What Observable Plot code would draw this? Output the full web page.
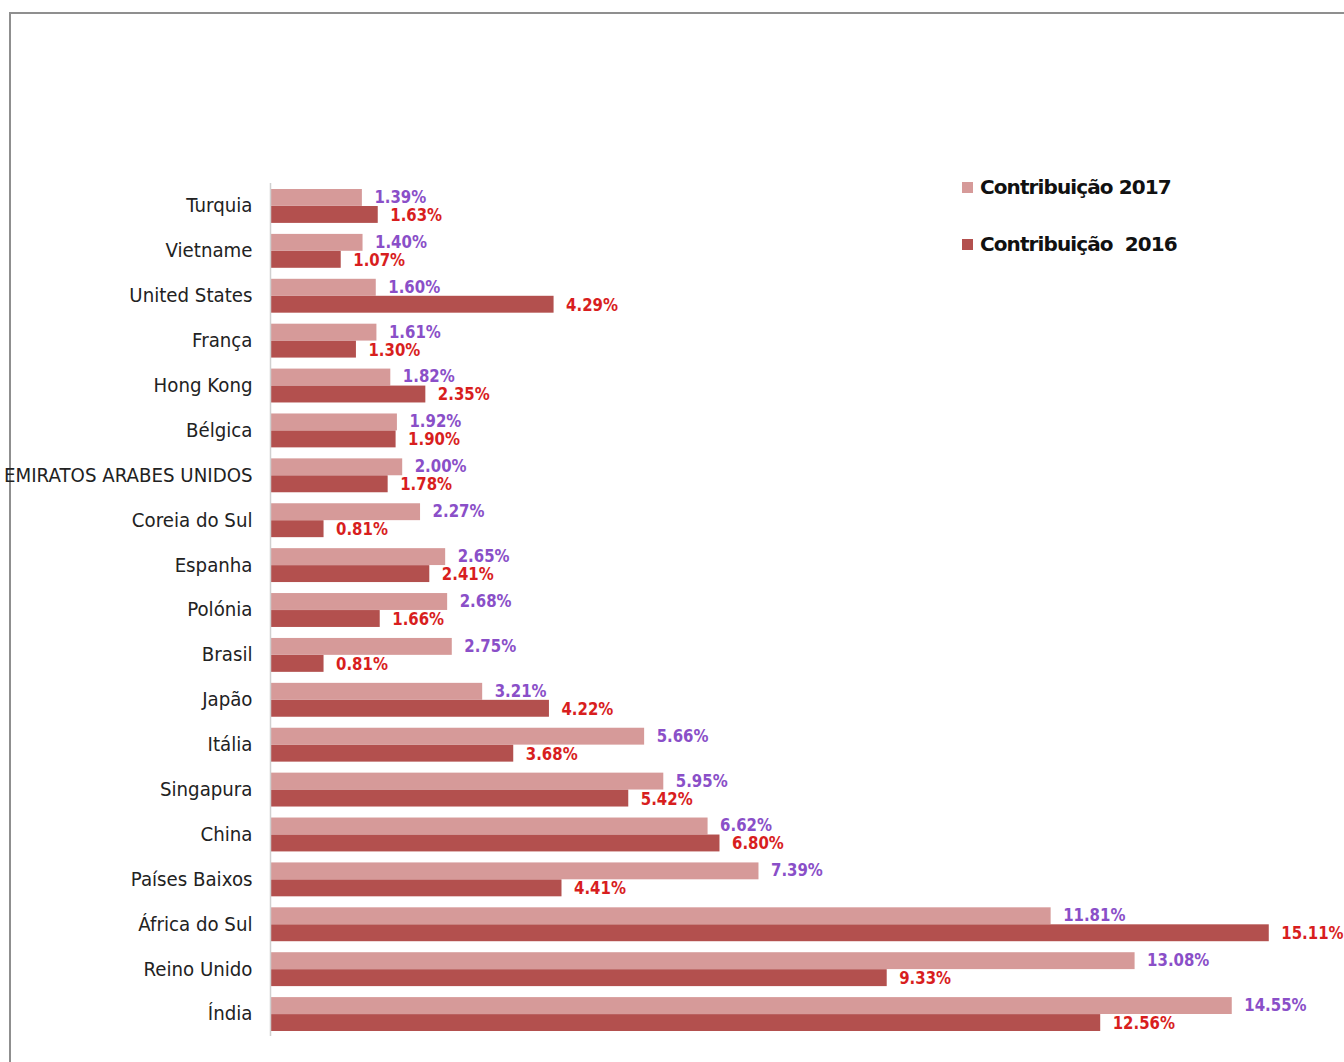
<!DOCTYPE html>
<html><head><meta charset="utf-8">
<script src="https://cdn.jsdelivr.net/npm/d3@7"></script>
<script src="https://cdn.jsdelivr.net/npm/@observablehq/plot@0.6"></script>
<style>
html,body{margin:0;padding:0;background:#fff;}
#wrap{position:relative;width:1344px;height:1062px;overflow:hidden;}
#frame{position:absolute;left:9px;top:12px;width:1400px;height:1100px;border-top:2px solid #8f8f8f;border-left:2px solid #8f8f8f;}
#chart{position:absolute;left:0;top:0;}
.leg{position:absolute;left:962px;font-family:"DejaVu Sans",sans-serif;font-weight:bold;font-size:20px;letter-spacing:-0.9px;color:#111;white-space:pre;}
.leg .sw{display:inline-block;width:11px;height:11px;margin-right:7px;vertical-align:1px;}
</style></head>
<body><div id="wrap"><div id="frame"></div><div id="chart"></div>
<div class="leg" style="top:175px"><span class="sw" style="background:#d69a99"></span>Contribuição 2017</div>
<div class="leg" style="top:232px"><span class="sw" style="background:#b3504e"></span>Contribuição  2016</div>
</div>
<script>
const countries = ["Turquia","Vietname","United States","França","Hong Kong","Bélgica","EMIRATOS ARABES UNIDOS","Coreia do Sul","Espanha","Polónia","Brasil","Japão","Itália","Singapura","China","Países Baixos","África do Sul","Reino Unido","Índia"];
const contrib2017 = [1.39,1.40,1.60,1.61,1.82,1.92,2.00,2.27,2.65,2.68,2.75,3.21,5.66,5.95,6.62,7.39,11.81,13.08,14.55];
const contrib2016 = [1.63,1.07,4.29,1.30,2.35,1.90,1.78,0.81,2.41,1.66,0.81,4.22,3.68,5.42,6.80,4.41,15.11,9.33,12.56];

const d17 = countries.map((c,i)=>({country:c, value:contrib2017[i]}));
const d16 = countries.map((c,i)=>({country:c, value:contrib2016[i]}));
const fmt = d => d.value.toFixed(2) + "%";
const font = "DejaVu Sans, sans-serif";

const chart = Plot.plot({
  width: 1344,
  height: 1062,
  marginLeft: 270,
  marginTop: 183,
  marginBottom: 26,
  marginRight: 0,
  style: {fontFamily: font, background: "transparent"},
  x: {domain: [0, 16], range: [270, 270 + 66.1 * 16], axis: null},
  y: {domain: countries, padding: 0, round: false, label: null, axis: null},
  marks: [
    Plot.barX(d17, {y: "country", x: "value", fill: "#d69a99", insetTop: 6, insetBottom: 22}),
    Plot.barX(d16, {y: "country", x: "value", fill: "#b3504e", insetTop: 23, insetBottom: 5}),
    Plot.text(d17, {y: "country", x: "value", text: fmt, textAnchor: "start", dx: 12, dy: -8.5, fill: "#8a4fc8", fontSize: 17, fontWeight: "bold"}),
    Plot.text(d16, {y: "country", x: "value", text: fmt, textAnchor: "start", dx: 12, dy: 9.5, fill: "#d81e1e", fontSize: 17, fontWeight: "bold"}),
    Plot.ruleX([0], {stroke: "#d0d0d0", strokeWidth: 1.5}),
    Plot.axisY({tickSize: 0, tickPadding: 18, fontSize: 20, fill: "#222", label: null})
  ]
});
document.getElementById("chart").appendChild(chart);

// condensed look: narrow each text horizontally about its own anchor
try {
  chart.querySelectorAll("g[aria-label]").forEach(g => {
    const lab = g.getAttribute("aria-label");
    const s = lab === "y-axis tick label" ? 0.91 : lab === "text" ? 0.88 : null;
    if (s === null) return;
    g.querySelectorAll("text").forEach(el => {
      const t = el.getAttribute("transform") || "";
      el.setAttribute("transform", t + " scale(" + s + ",1)");
    });
  });
} catch (e) {}
</script></body></html>
